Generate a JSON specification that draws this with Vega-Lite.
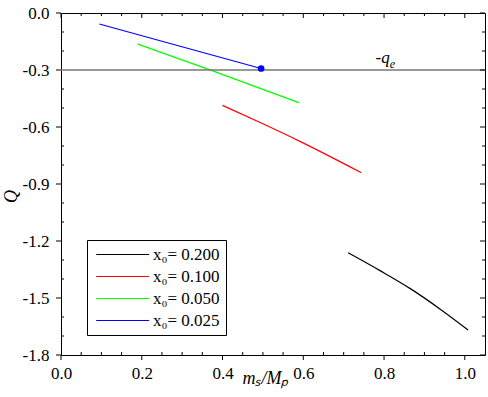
{
  "$schema": "https://vega.github.io/schema/vega-lite/v6.json",
  "autosize": {"type": "none"},
  "width": 424,
  "height": 342,
  "padding": {"left": 61, "top": 13, "right": 3, "bottom": 42},
  "background": "white",
  "config": {
    "axis": {"grid": false, "domain": false, "ticks": false, "labelFlush": false, "labelColor": "black", "titleColor": "black", "labelFont": "Liberation Serif", "titleFont": "Liberation Serif", "labelFontSize": 17, "titleFontSize": 18, "titleFontWeight": "normal"},
    "view": {"stroke": "black", "strokeWidth": 1}
  },
  "datasets": {
    "xMajor": [{"v": 0}, {"v": 0.2}, {"v": 0.4}, {"v": 0.6}, {"v": 0.8}, {"v": 1.0}],
    "xMinor": [{"v": 0.05}, {"v": 0.1}, {"v": 0.15}, {"v": 0.25}, {"v": 0.3}, {"v": 0.35}, {"v": 0.45}, {"v": 0.5}, {"v": 0.55}, {"v": 0.65}, {"v": 0.7}, {"v": 0.75}, {"v": 0.85}, {"v": 0.9}, {"v": 0.95}],
    "yMajor": [{"v": -1.8}, {"v": -1.5}, {"v": -1.2}, {"v": -0.9}, {"v": -0.6}, {"v": -0.3}, {"v": 0}],
    "yMinor": [{"v": -1.7}, {"v": -1.6}, {"v": -1.4}, {"v": -1.3}, {"v": -1.1}, {"v": -1.0}, {"v": -0.8}, {"v": -0.7}, {"v": -0.5}, {"v": -0.4}, {"v": -0.2}, {"v": -0.1}]
  },
  "layer": [
    {
      "data": {"values": [
        {"series": "x₀= 0.200", "ms": 0.711, "Q": -1.262},
        {"series": "x₀= 0.200", "ms": 0.790, "Q": -1.356},
        {"series": "x₀= 0.200", "ms": 0.866, "Q": -1.452},
        {"series": "x₀= 0.200", "ms": 0.940, "Q": -1.560},
        {"series": "x₀= 0.200", "ms": 1.008, "Q": -1.668},
        {"series": "x₀= 0.100", "ms": 0.400, "Q": -0.486},
        {"series": "x₀= 0.100", "ms": 0.500, "Q": -0.583},
        {"series": "x₀= 0.100", "ms": 0.593, "Q": -0.677},
        {"series": "x₀= 0.100", "ms": 0.744, "Q": -0.841},
        {"series": "x₀= 0.050", "ms": 0.189, "Q": -0.163},
        {"series": "x₀= 0.050", "ms": 0.374, "Q": -0.303},
        {"series": "x₀= 0.050", "ms": 0.589, "Q": -0.472},
        {"series": "x₀= 0.025", "ms": 0.095, "Q": -0.058},
        {"series": "x₀= 0.025", "ms": 0.295, "Q": -0.175},
        {"series": "x₀= 0.025", "ms": 0.4955, "Q": -0.292}
      ]},
      "mark": {"type": "line", "strokeWidth": 1.2, "interpolate": "monotone"},
      "encoding": {
        "x": {"field": "ms", "type": "quantitative", "scale": {"domain": [0, 1.05], "nice": false, "zero": false},
          "axis": {"orient": "bottom", "values": [0, 0.2, 0.4, 0.6, 0.8, 1.0], "labelPadding": 10,
            "labelExpr": "replace(format(datum.value, '.1f'), '\u2212', '-')",
            "title": "mₛ/Mₚ", "titleFontStyle": "italic", "titleX": 204, "titleY": 28, "titleBaseline": "alphabetic", "titleAlign": "center"}},
        "y": {"field": "Q", "type": "quantitative", "scale": {"domain": [-1.8, 0], "nice": false, "zero": false},
          "axis": {"orient": "left", "values": [-1.8, -1.5, -1.2, -0.9, -0.6, -0.3, 0], "labelPadding": 12,
            "labelExpr": "replace(format(datum.value, '.1f'), '\u2212', '-')",
            "title": "Q", "titleFontStyle": "italic", "titleX": -45, "titleY": 183, "titleAngle": -90, "titleBaseline": "alphabetic", "titleAlign": "center"}},
        "color": {"field": "series", "type": "nominal",
          "scale": {"domain": ["x₀= 0.200", "x₀= 0.100", "x₀= 0.050", "x₀= 0.025"], "range": ["#000000", "#ff0000", "#00ff00", "#0000ff"]},
          "legend": {"orient": "none", "legendX": 26, "legendY": 227, "title": null, "strokeColor": "black", "fillColor": "white", "padding": 6, "cornerRadius": 0,
            "symbolType": "M-1,0H9", "symbolSize": 112, "symbolStrokeWidth": 1.2, "labelOffset": 43, "rowPadding": 4,
            "labelFont": "Liberation Serif", "labelFontSize": 17, "labelColor": "black"}}
      }
    },
    {
      "data": {"values": [{"level": -0.3}]},
      "mark": {"type": "rule", "color": "#777777", "strokeWidth": 1.3},
      "encoding": {
        "y": {"field": "level", "type": "quantitative", "title": "Q", "scale": {"domain": [-1.8, 0], "nice": false, "zero": false}}
      }
    },
    {
      "data": {"values": [{"ms": 0.4955, "Q": -0.292}]},
      "mark": {"type": "point", "filled": true, "color": "#0000ff", "size": 45, "opacity": 1},
      "encoding": {
        "x": {"field": "ms", "type": "quantitative", "title": "mₛ/Mₚ", "scale": {"domain": [0, 1.05], "nice": false, "zero": false}},
        "y": {"field": "Q", "type": "quantitative", "title": "Q", "scale": {"domain": [-1.8, 0], "nice": false, "zero": false}}
      }
    },
    {
      "data": {"values": [{"ms": 0.779, "Q": -0.263, "t": "-q"}, {"ms": 0.814, "Q": -0.289, "t": "e"}]},
      "mark": {"type": "text", "font": "Liberation Serif", "fontStyle": "italic", "align": "left", "baseline": "alphabetic", "color": "black"},
      "encoding": {
        "x": {"field": "ms", "type": "quantitative", "title": "mₛ/Mₚ", "scale": {"domain": [0, 1.05], "nice": false, "zero": false}},
        "y": {"field": "Q", "type": "quantitative", "title": "Q", "scale": {"domain": [-1.8, 0], "nice": false, "zero": false}},
        "size": {"condition": {"test": "datum.t === 'e'", "value": 12}, "value": 17},
        "text": {"field": "t"}
      }
    },
    {
      "data": {"name": "xMajor"},
      "mark": {"type": "tick", "orient": "vertical", "color": "black", "size": 5, "thickness": 1, "yOffset": 2.5, "opacity": 1},
      "encoding": {
        "x": {"field": "v", "type": "quantitative", "title": "mₛ/Mₚ", "scale": {"domain": [0, 1.05], "nice": false, "zero": false}},
        "y": {"datum": -1.8, "type": "quantitative", "title": "Q", "scale": {"domain": [-1.8, 0], "nice": false, "zero": false}}
      }
    },
    {
      "data": {"name": "xMajor"},
      "mark": {"type": "tick", "orient": "vertical", "color": "black", "size": 5, "thickness": 1, "yOffset": 2.5, "opacity": 1},
      "encoding": {
        "x": {"field": "v", "type": "quantitative", "title": "mₛ/Mₚ", "scale": {"domain": [0, 1.05], "nice": false, "zero": false}},
        "y": {"datum": 0, "type": "quantitative", "title": "Q", "scale": {"domain": [-1.8, 0], "nice": false, "zero": false}}
      }
    },
    {
      "data": {"name": "xMinor"},
      "mark": {"type": "tick", "orient": "vertical", "color": "black", "size": 3, "thickness": 1, "yOffset": -1.5, "opacity": 1},
      "encoding": {
        "x": {"field": "v", "type": "quantitative", "title": "mₛ/Mₚ", "scale": {"domain": [0, 1.05], "nice": false, "zero": false}},
        "y": {"datum": -1.8, "type": "quantitative", "title": "Q", "scale": {"domain": [-1.8, 0], "nice": false, "zero": false}}
      }
    },
    {
      "data": {"name": "xMinor"},
      "mark": {"type": "tick", "orient": "vertical", "color": "black", "size": 3, "thickness": 1, "yOffset": 1.5, "opacity": 1},
      "encoding": {
        "x": {"field": "v", "type": "quantitative", "title": "mₛ/Mₚ", "scale": {"domain": [0, 1.05], "nice": false, "zero": false}},
        "y": {"datum": 0, "type": "quantitative", "title": "Q", "scale": {"domain": [-1.8, 0], "nice": false, "zero": false}}
      }
    },
    {
      "data": {"name": "yMajor"},
      "mark": {"type": "tick", "orient": "horizontal", "color": "black", "size": 5, "thickness": 1, "xOffset": -2.5, "opacity": 1},
      "encoding": {
        "y": {"field": "v", "type": "quantitative", "title": "Q", "scale": {"domain": [-1.8, 0], "nice": false, "zero": false}},
        "x": {"datum": 0, "type": "quantitative", "title": "mₛ/Mₚ", "scale": {"domain": [0, 1.05], "nice": false, "zero": false}}
      }
    },
    {
      "data": {"name": "yMajor"},
      "mark": {"type": "tick", "orient": "horizontal", "color": "black", "size": 5, "thickness": 1, "xOffset": -2.5, "opacity": 1},
      "encoding": {
        "y": {"field": "v", "type": "quantitative", "title": "Q", "scale": {"domain": [-1.8, 0], "nice": false, "zero": false}},
        "x": {"datum": 1.05, "type": "quantitative", "title": "mₛ/Mₚ", "scale": {"domain": [0, 1.05], "nice": false, "zero": false}}
      }
    },
    {
      "data": {"name": "yMinor"},
      "mark": {"type": "tick", "orient": "horizontal", "color": "black", "size": 3, "thickness": 1, "xOffset": 1.5, "opacity": 1},
      "encoding": {
        "y": {"field": "v", "type": "quantitative", "title": "Q", "scale": {"domain": [-1.8, 0], "nice": false, "zero": false}},
        "x": {"datum": 0, "type": "quantitative", "title": "mₛ/Mₚ", "scale": {"domain": [0, 1.05], "nice": false, "zero": false}}
      }
    },
    {
      "data": {"name": "yMinor"},
      "mark": {"type": "tick", "orient": "horizontal", "color": "black", "size": 3, "thickness": 1, "xOffset": -1.5, "opacity": 1},
      "encoding": {
        "y": {"field": "v", "type": "quantitative", "title": "Q", "scale": {"domain": [-1.8, 0], "nice": false, "zero": false}},
        "x": {"datum": 1.05, "type": "quantitative", "title": "mₛ/Mₚ", "scale": {"domain": [0, 1.05], "nice": false, "zero": false}}
      }
    }
  ]
}
